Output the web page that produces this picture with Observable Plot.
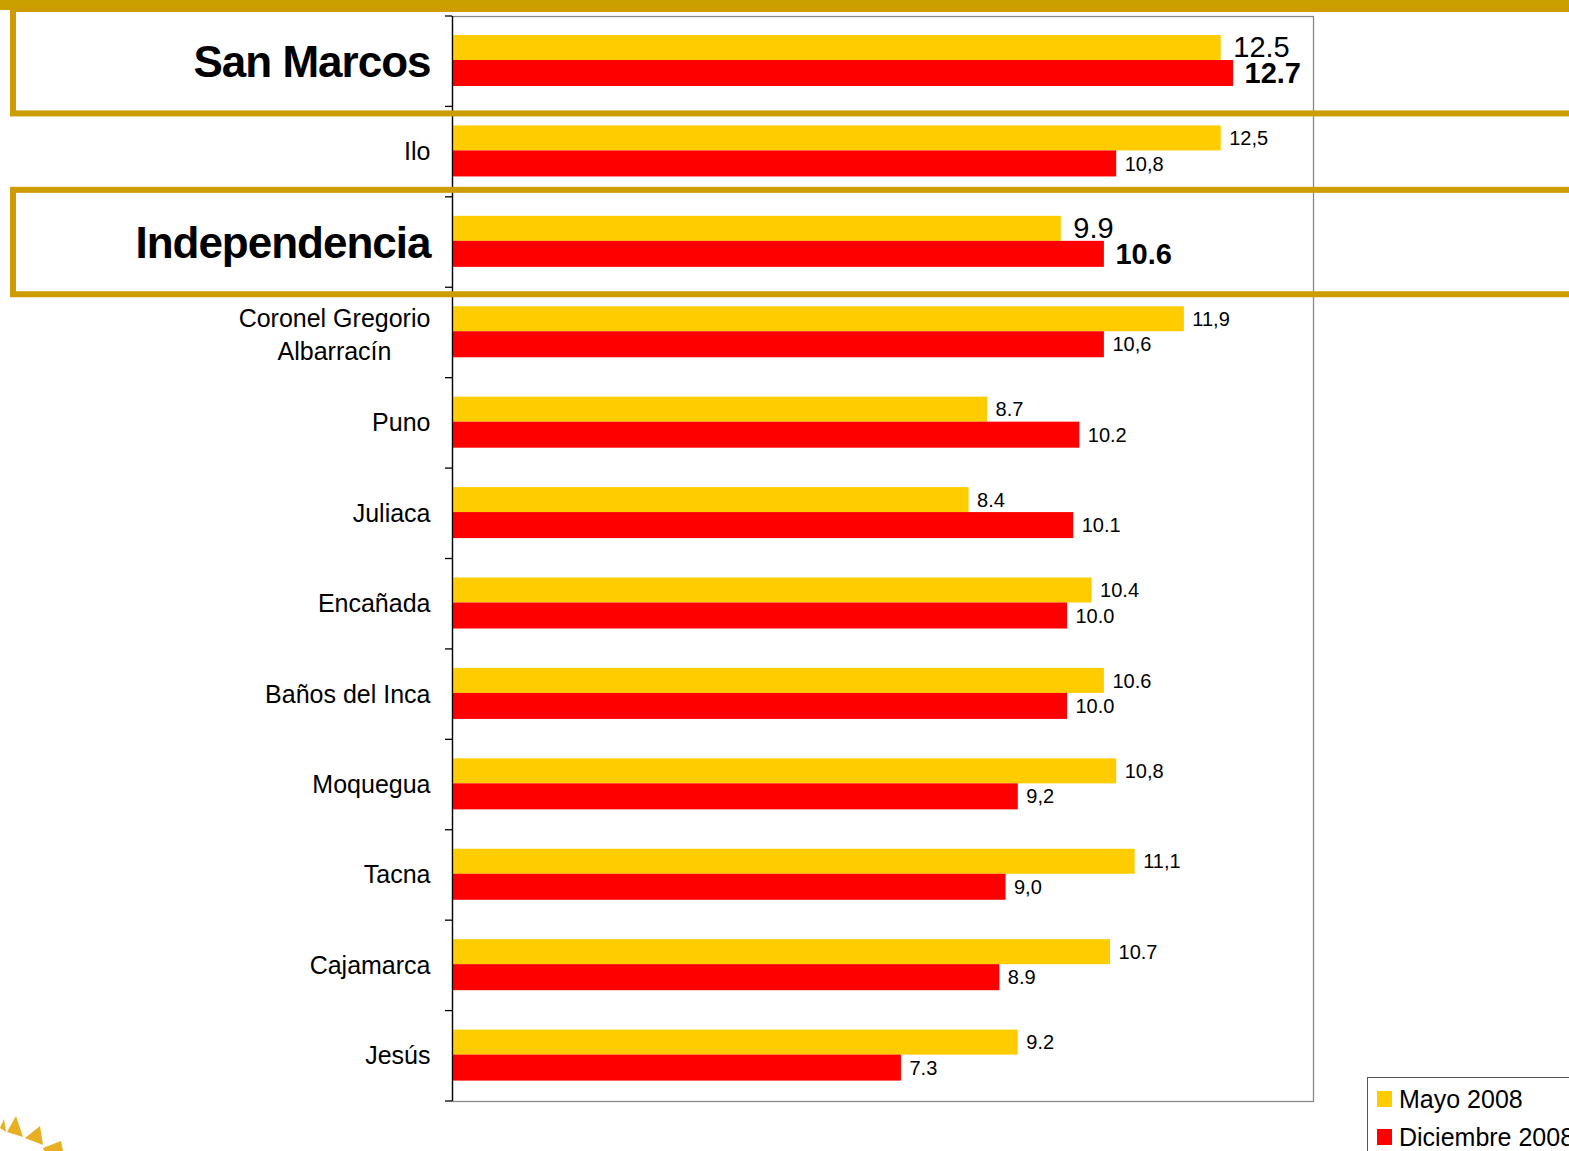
<!DOCTYPE html>
<html>
<head>
<meta charset="utf-8">
<script src="https://cdn.jsdelivr.net/npm/d3@7"></script>
<script src="https://cdn.jsdelivr.net/npm/@observablehq/plot@0.6"></script>
<style>
  html, body { margin: 0; padding: 0; background: #fff; }
  #wrap { position: relative; width: 1569px; height: 1151px; overflow: hidden; background: #fff;
          font-family: "Liberation Sans", Arial, sans-serif; }
  #chart { position: absolute; left: 0; top: 0; }
  #legend { position: absolute; left: 1367px; top: 1077px; width: 260px; height: 120px;
            border: 1px solid #555; background: #fff; box-sizing: border-box; padding: 2px 0 0 9px; }
  .item { display: flex; align-items: center; height: 38px; font-size: 25px; color: #000; }
  .sw { width: 15px; height: 16px; margin-right: 7px; }
  #logo { position: absolute; left: 0; top: 1100px; }
</style>
</head>
<body>
<div id="wrap">
  <div id="chart"></div>
  <div id="legend"></div>
  <svg id="logo" width="80" height="51">
    <polygon points="0,28 4,19 6,32" fill="#E6B022"/>
    <polygon points="7,32 16,16 23,37" fill="#E6B022"/>
    <polygon points="25,38 40,26 43,45" fill="#E6B022"/>
    <polygon points="43,48 61,41 63,51 44,51" fill="#E6B022"/>
  </svg>
</div>
<script>
const categories = ["San Marcos", "Ilo", "Independencia", "Coronel Gregorio Albarracín", "Puno", "Juliaca",
  "Encañada", "Baños del Inca", "Moquegua", "Tacna", "Cajamarca", "Jesús"];
const series = ["Mayo 2008", "Diciembre 2008"];
const colors = ["#FFCC00", "#FF0000"];
const mayo = [12.5, 12.5, 9.9, 11.9, 8.7, 8.4, 10.4, 10.6, 10.8, 11.1, 10.7, 9.2];
const diciembre = [12.7, 10.8, 10.6, 10.6, 10.2, 10.1, 10.0, 10.0, 9.2, 9.0, 8.9, 7.3];
const mayoLabels = ["12.5", "12,5", "9.9", "11,9", "8.7", "8.4", "10.4", "10.6", "10,8", "11,1", "10.7", "9.2"];
const diciembreLabels = ["12.7", "10,8", "10.6", "10,6", "10.2", "10.1", "10.0", "10.0", "9,2", "9,0", "8.9", "7.3"];
const highlighted = ["San Marcos", "Independencia"];
const xDomain = [0, 14];

const rowsMayo = categories.map((c, i) => ({cat: c, series: series[0], value: mayo[i], label: mayoLabels[i]}));
const rowsDic = categories.map((c, i) => ({cat: c, series: series[1], value: diciembre[i], label: diciembreLabels[i]}));
const isHi = d => highlighted.includes(d.cat);
const catRows = categories.map(c => ({cat: c}));
const wrapped = d => d.cat.length > 20;

const plot = Plot.plot({
  width: 1569,
  height: 1151,
  marginLeft: 452,
  marginRight: 256,
  marginTop: 16,
  marginBottom: 50,
  style: {fontFamily: "'Liberation Sans', Arial, sans-serif", background: "transparent"},
  x: {domain: xDomain, axis: null},
  y: {domain: categories, padding: 0, round: false, axis: null},
  color: {domain: series, range: colors},
  marks: [
    Plot.frame({stroke: "#888", strokeWidth: 1.3}),
    Plot.barX(rowsMayo, {x: "value", y: "cat", fill: "series", insetTop: 19, insetBottom: 46.4}),
    Plot.barX(rowsDic, {x: "value", y: "cat", fill: "series", insetTop: 44, insetBottom: 20.4}),
    Plot.ruleX([0], {stroke: "#000", strokeWidth: 1.3}),
    // value labels, normal rows
    Plot.text(rowsMayo.filter(d => !isHi(d)), {x: "value", y: "cat", text: "label", textAnchor: "start", dx: 8, dy: -13.5, fontSize: 20, fill: "#000"}),
    Plot.text(rowsDic.filter(d => !isHi(d)), {x: "value", y: "cat", text: "label", textAnchor: "start", dx: 8, dy: 12, fontSize: 20, fill: "#000"}),
    // value labels, highlighted rows
    Plot.text(rowsMayo.filter(isHi), {x: "value", y: "cat", text: "label", textAnchor: "start", dx: 12, dy: -14, fontSize: 29, fill: "#000"}),
    Plot.text(rowsDic.filter(isHi), {x: "value", y: "cat", text: "label", textAnchor: "start", dx: 11, dy: 12, fontSize: 29, fontWeight: "bold", fill: "#000"}),
    // category labels
    Plot.text(catRows.filter(d => !isHi(d) && !wrapped(d)), {y: "cat", text: "cat", frameAnchor: "left", textAnchor: "end", dx: -22, fontSize: 25, fill: "#000"}),
    Plot.text(catRows.filter(wrapped), {y: "cat", text: "cat", frameAnchor: "left", textAnchor: "middle", dx: -118, fontSize: 25, lineWidth: 10, lineHeight: 1.3, fill: "#000"}),
    Plot.text(catRows.filter(isHi), {y: "cat", text: "cat", frameAnchor: "left", textAnchor: "end", dx: -22, dy: 1, fontSize: 44, fontWeight: "bold", fill: "#000"})
  ]
});

// decorations derived from the plot scales
const ys = plot.scale("y");
const xs = plot.scale("x");
const bw = ys.bandwidth;
const x0 = xs.apply(0);
const svg = d3.select(plot);
// tighter tracking on the highlighted category names
svg.selectAll("text").filter(function() { return highlighted.includes(this.textContent); })
  .attr("letter-spacing", "-1px");
const g = svg.append("g");
const bounds = categories.map(c => ys.apply(c)).concat([ys.apply(categories[categories.length - 1]) + bw]);
g.selectAll("line.tick").data(bounds).join("line")
  .attr("x1", x0 - 7).attr("x2", x0).attr("y1", d => d).attr("y2", d => d)
  .attr("stroke", "#000").attr("stroke-width", 1.3);
// slide header band
g.append("rect").attr("x", 0).attr("y", 0).attr("width", 1569).attr("height", 10).attr("fill", "#C9A000");
// highlight boxes
g.selectAll("rect.box").data(highlighted).join("rect")
  .attr("x", 13).attr("y", d => ys.apply(d) - 7).attr("width", 1600).attr("height", bw + 14)
  .attr("fill", "none").attr("stroke", "#CC9C00").attr("stroke-width", 6);

document.getElementById("chart").appendChild(plot);

// legend from the color scale
const cs = plot.scale("color");
const legend = d3.select("#legend");
cs.domain.forEach((s, i) => {
  const it = legend.append("div").attr("class", "item");
  it.append("div").attr("class", "sw").style("background", cs.range[i]);
  it.append("span").text(s);
});
</script>
</body>
</html>
